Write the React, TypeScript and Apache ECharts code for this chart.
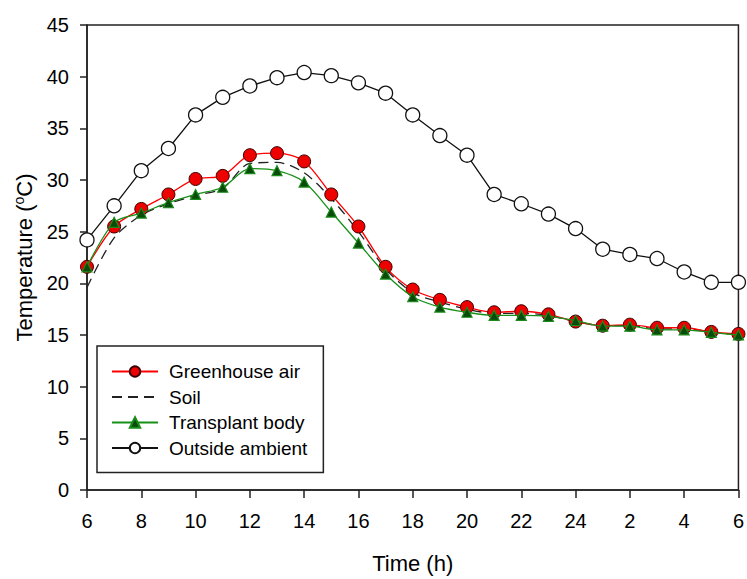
import React, { useEffect, useRef } from "react";
import * as echarts from "echarts";

const hours = [6, 7, 8, 9, 10, 11, 12, 13, 14, 15, 16, 17, 18, 19, 20, 21, 22, 23, 24, 25, 26, 27, 28, 29, 30];
const xTickLabels = ["6", "8", "10", "12", "14", "16", "18", "20", "22", "24", "2", "4", "6"];
const greenhouseAir = [21.6, 25.5, 27.2, 28.6, 30.1, 30.4, 32.4, 32.6, 31.8, 28.6, 25.5, 21.6, 19.4, 18.4, 17.7, 17.2, 17.3, 17.0, 16.3, 15.9, 16.0, 15.7, 15.7, 15.3, 15.1];
const soil = [19.6, 24.4, 26.6, 27.7, 28.5, 29.2, 31.6, 31.7, 30.7, 28.2, 25.0, 21.4, 19.1, 18.2, 17.5, 17.1, 17.1, 16.9, 16.3, 15.9, 15.9, 15.6, 15.6, 15.3, 15.0];
const transplantBody = [21.6, 25.9, 26.8, 27.8, 28.6, 29.3, 31.1, 30.9, 29.8, 26.9, 23.9, 20.9, 18.7, 17.7, 17.2, 16.9, 16.9, 16.8, 16.4, 15.85, 15.85, 15.5, 15.5, 15.25, 15.0];
const outsideAmbient = [24.2, 27.5, 30.9, 33.05, 36.3, 38.0, 39.1, 39.9, 40.4, 40.1, 39.4, 38.4, 36.3, 34.3, 32.4, 28.6, 27.7, 26.7, 25.3, 23.3, 22.8, 22.4, 21.1, 20.1, 20.1];

const pair = (ys: number[]) => ys.map((y, i) => [hours[i], y]);

export default function App() {
  const ref = useRef<HTMLDivElement>(null);
  useEffect(() => {
    if (!ref.current) return;
    const chart = echarts.init(ref.current, null, { renderer: "svg" });
    const font = "Liberation Sans, Arial, sans-serif";
    chart.setOption({
      animation: false,
      textStyle: { fontFamily: font, color: "#000" },
      grid: {
        left: 87,
        right: 8.5,
        top: 25,
        bottom: 87,
        show: true,
        borderColor: "#222",
        borderWidth: 1.5,
      },
      legend: {
        orient: "vertical",
        left: 97,
        top: 346,
        data: [
          "Greenhouse air",
          { name: "Soil", itemStyle: { opacity: 0 } },
          "Transplant body",
          "Outside ambient",
        ],
        itemWidth: 46,
        itemHeight: 13,
        itemGap: 6.5,
        padding: [16, 16, 15, 14],
        borderColor: "#222",
        borderWidth: 1.5,
        backgroundColor: "#fff",
        textStyle: { fontFamily: font, fontSize: 19, color: "#000", padding: [0, 0, 0, 6] },
      },
      xAxis: {
        type: "value",
        min: 6,
        max: 30,
        interval: 2,
        name: "Time (h)",
        nameLocation: "middle",
        nameGap: 62,
        nameTextStyle: { fontFamily: font, fontSize: 22, color: "#000" },
        axisLine: { lineStyle: { color: "#222", width: 1.5 } },
        axisTick: { inside: false, length: 8, lineStyle: { color: "#222", width: 1.5 } },
        axisLabel: {
          fontFamily: font,
          fontSize: 20,
          color: "#000",
          margin: 21,
          formatter: (v: number) => xTickLabels[Math.round((v - 6) / 2)] ?? "",
        },
        splitLine: { show: false },
      },
      yAxis: {
        type: "value",
        min: 0,
        max: 45,
        interval: 5,
        name: "Temperature ({s|o}C)",
        nameLocation: "middle",
        nameGap: 51,
        nameTextStyle: {
          fontFamily: font,
          fontSize: 22,
          color: "#000",
          rich: {
            s: { fontSize: 14, verticalAlign: "top", fontFamily: font, color: "#000", padding: [0, 0, 10, 0] },
          },
        },
        axisLine: { show: true, lineStyle: { color: "#222", width: 1.5 } },
        axisTick: { show: true, inside: false, length: 7, lineStyle: { color: "#222", width: 1.5 } },
        axisLabel: { fontFamily: font, fontSize: 20, color: "#000", margin: 18 },
        splitLine: { show: false },
      },
      series: [
        {
          name: "Greenhouse air",
          type: "line",
          data: pair(greenhouseAir),
          smooth: 0.3,
          symbol: "circle",
          symbolSize: 13,
          lineStyle: { color: "#ff0000", width: 1.3 },
          itemStyle: { color: "#ee0000", borderColor: "#3a0000", borderWidth: 1 },
          z: 3,
        },
        {
          name: "Soil",
          type: "line",
          data: pair(soil),
          smooth: 0.3,
          showSymbol: false,
          symbol: "none",
          lineStyle: { color: "#222", width: 1.3, type: [10, 6] },
          itemStyle: { color: "#222" },
          z: 2,
        },
        {
          name: "Transplant body",
          type: "line",
          data: pair(transplantBody),
          smooth: 0.3,
          symbol: "triangle",
          symbolSize: 10,
          lineStyle: { color: "#169016", width: 1.3 },
          itemStyle: { color: "#0a4a0a", borderColor: "#1a8a1a", borderWidth: 1.2 },
          z: 4,
        },
        {
          name: "Outside ambient",
          type: "line",
          data: pair(outsideAmbient),
          smooth: false,
          symbol: "circle",
          symbolSize: 14,
          lineStyle: { color: "#111", width: 1.3 },
          itemStyle: { color: "#fff", borderColor: "#111", borderWidth: 1.3 },
          z: 3,
        },
      ],
    });
    return () => chart.dispose();
  }, []);
  return <div ref={ref} style={{ width: 747, height: 579, position: "absolute", left: 0, top: 0 }} />;
}
